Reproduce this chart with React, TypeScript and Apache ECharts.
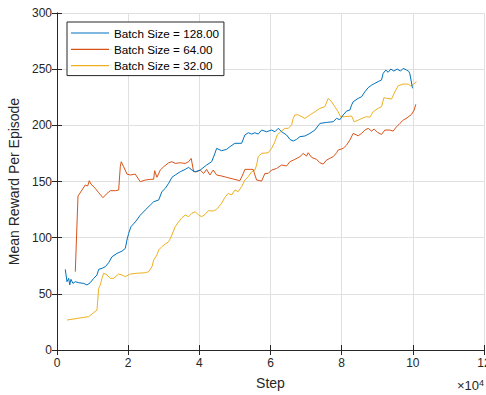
import React, { useEffect, useRef } from "react";
import * as echarts from "echarts";

const seriesNames = ["Batch Size = 128.00", "Batch Size = 64.00", "Batch Size = 32.00"];
const colors = ["#0072BD", "#D95319", "#EDB120"];

const xTicks = [0, 20000, 40000, 60000, 80000, 100000, 120000];
const yTicks = [0, 50, 100, 150, 200, 250, 300];

const stepsB = [2330, 2810, 3290, 3570, 3930, 4490, 5140, 6100, 7500, 8430, 9350, 10310, 11240, 11710, 12640, 13570, 14520, 15450, 16850, 18260, 19190, 19660, 20140, 20790, 22000, 23400, 24800, 26210, 27160, 28570, 29490, 30420, 31380, 32300, 33230, 34640, 36040, 36990, 37920, 38850, 40250, 42050, 43460, 44380, 44860, 46260, 47670, 48600, 50000, 51880, 52810, 53740, 54690, 55620, 56550, 57500, 58900, 60310, 61240, 62160, 63120, 64520, 65450, 66380, 67330, 68260, 69660, 71070, 72470, 73880, 75760, 77610, 78570, 79490, 80420, 81380, 82300, 82780, 83230, 84640, 85590, 86520, 87440, 88400, 89330, 90250, 91210, 91660, 92420, 93060, 93820, 94660, 95590, 96540, 97280, 98230, 98880, 99160, 99910];
const rewardB = [71.8, 60.8, 63.8, 57.9, 62.9, 59.3, 60.8, 59.9, 59.3, 57.9, 59.9, 63.8, 66.8, 71.8, 72.7, 74.1, 77.7, 83, 86, 88, 90.4, 97.9, 103.8, 109.8, 114, 120, 124.6, 129, 132, 133.5, 141, 143.9, 148.4, 153.7, 155.8, 158.7, 160.8, 162.6, 160.2, 158.7, 160.2, 164.7, 167.6, 175, 179.5, 177.4, 178.6, 181, 184, 184, 191.4, 193.4, 192.2, 193.4, 192.2, 195.8, 194.3, 195.8, 194.3, 197.3, 194.3, 191.4, 187.5, 186, 187.5, 189.9, 190.5, 192.8, 195.8, 201.7, 202.6, 203.2, 206.2, 205, 209.2, 212.7, 213.6, 218, 221, 224, 225.4, 229.9, 233.5, 235.8, 237.4, 238.9, 240.4, 246.3, 249.2, 247.2, 250.1, 248.3, 250.1, 248.3, 250.7, 249.2, 248, 246, 233];

const stepsO = [5140, 5900, 7020, 7950, 8620, 9070, 9550, 10760, 11710, 12920, 13850, 14970, 16380, 17330, 17780, 18060, 18740, 19660, 20590, 21990, 23400, 24800, 26210, 27160, 27440, 28090, 29020, 29970, 31380, 32300, 33230, 34640, 36040, 36990, 37720, 38400, 39330, 40250, 41210, 42050, 42980, 43910, 44860, 46260, 47670, 49520, 51400, 52150, 52810, 55140, 55620, 56100, 57500, 58430, 59360, 60310, 61710, 63120, 64520, 65450, 66850, 68260, 69190, 70140, 70590, 71540, 72950, 73880, 74800, 75760, 76680, 77610, 78570, 79020, 80420, 81380, 82300, 83230, 84640, 85590, 86520, 87440, 88400, 89130, 90080, 91210, 92140, 93540, 94470, 95420, 96350, 97280, 98400, 99630, 100370, 100840];
const rewardO = [69.7, 137, 142.4, 146.9, 146, 150.7, 147.7, 143.9, 140, 135.6, 138.8, 141.8, 141.8, 142.4, 163.1, 167.6, 163.1, 156.6, 155.8, 156.6, 149.8, 151.3, 151.9, 152, 159.6, 153.7, 160.2, 163.1, 166.7, 167.6, 166.1, 166.7, 166.1, 167.6, 170.5, 158.7, 158.7, 160.2, 157.2, 160.8, 155.8, 160.2, 155.8, 154.9, 153.7, 152.2, 150.7, 155.8, 160.8, 160.8, 155.8, 151.3, 150.4, 157.2, 157.2, 160.2, 161.6, 164.7, 163.8, 167.6, 169.7, 172.1, 175, 172.6, 175.6, 171.5, 169.7, 166.7, 165.5, 169.1, 170.6, 172.1, 175.6, 178, 179.5, 182.4, 186.9, 192.8, 190.7, 192.8, 195.8, 197.3, 194.9, 196.7, 193.7, 191.9, 195.8, 195.8, 194.9, 198.7, 201.7, 204.6, 206.7, 209.7, 213.6, 218.7];

const stepsY = [2810, 8900, 11240, 11710, 12160, 12640, 13120, 14050, 14970, 15930, 17330, 18260, 19190, 20590, 22470, 24800, 25760, 26690, 27160, 28090, 28570, 29490, 30420, 31380, 32300, 33230, 34190, 35110, 36040, 36990, 37920, 38850, 39800, 40650, 41570, 42500, 43910, 44860, 46260, 47190, 48120, 49070, 50000, 50930, 51880, 52810, 53740, 54690, 55620, 56100, 56550, 57500, 59360, 60310, 61240, 61880, 62840, 64050, 64970, 65930, 66380, 66850, 67700, 69660, 71070, 72470, 73880, 75290, 76210, 77170, 78090, 79020, 79690, 80900, 82780, 83510, 84640, 86040, 87000, 87920, 88850, 90250, 91210, 91860, 92620, 94020, 94940, 95870, 97280, 98680, 99350, 100090, 101040];
const rewardY = [26.7, 29.7, 35.6, 54.9, 57.9, 63.8, 68.3, 66.8, 63.8, 63.8, 67.6, 66.8, 65.3, 67.6, 68.3, 68.8, 69.7, 74.1, 80.1, 84.6, 89, 92, 94.3, 96.4, 102.4, 109.8, 114.2, 117.8, 120.1, 118.7, 121.7, 123.1, 120.1, 118.7, 120.5, 124, 123.7, 125.2, 130.6, 135.9, 139.4, 138, 142.4, 141, 145.4, 151.3, 154.3, 158.7, 160.2, 164.7, 172.1, 175, 175.6, 179.5, 185.4, 191.4, 194.3, 197.3, 197.3, 200.3, 206.2, 209.2, 209.5, 206.2, 209.2, 212.1, 215.1, 216.6, 224, 221, 216.6, 212.1, 207.7, 207.7, 208.3, 203.2, 204.6, 206.7, 207.7, 207.2, 212.1, 215.1, 216.6, 224.6, 224, 223.4, 229.9, 235.2, 236.7, 236.7, 235.2, 236.3, 238.9];

const FONT = "'Liberation Sans', Arial, Helvetica, sans-serif";
const AXIS_COLOR = "#262626";

function pairs(xs: number[], ys: number[]) {
  return xs.map((x, i) => [x, ys[i]]);
}

export default function App() {
  const ref = useRef<HTMLDivElement>(null);
  useEffect(() => {
    if (!ref.current) return;
    const chart = echarts.init(ref.current, null, { renderer: "svg" });
    const xMin = xTicks[0];
    const xMax = xTicks[xTicks.length - 1];
    const xInt = xTicks[1] - xTicks[0];
    const yMin = yTicks[0];
    const yMax = yTicks[yTicks.length - 1];
    const yInt = yTicks[1] - yTicks[0];
    const lineStyleAxis = { show: true, lineStyle: { color: AXIS_COLOR, width: 1 } };
    const tickIn = { show: true, inside: true, length: 5, lineStyle: { color: AXIS_COLOR } };
    const data = [pairs(stepsB, rewardB), pairs(stepsO, rewardO), pairs(stepsY, rewardY)];
    chart.setOption({
      animation: false,
      backgroundColor: "#ffffff",
      grid: { left: 57, right: 2, top: 13, bottom: 45, containLabel: false, outerBoundsMode: "none" },
      legend: {
        left: 67,
        top: 22,
        orient: "vertical",
        icon: "rect",
        itemWidth: 38,
        itemHeight: 1.2,
        itemGap: 2.3,
        padding: [4, 5, 3, 4],
        backgroundColor: "#ffffff",
        borderColor: AXIS_COLOR,
        borderWidth: 1,
        borderRadius: 0,
        textStyle: { fontFamily: FONT, fontSize: 11.7, color: "#000000", lineHeight: 14, padding: [0, 0, 0, 0] },
        data: seriesNames,
      },
      xAxis: [
        {
          type: "value",
          min: xMin,
          max: xMax,
          interval: xInt,
          position: "bottom",
          name: "Step",
          nameLocation: "middle",
          nameGap: 26,
          nameTextStyle: { fontFamily: FONT, fontSize: 14, color: AXIS_COLOR },
          axisLine: lineStyleAxis,
          axisTick: tickIn,
          axisLabel: {
            fontFamily: FONT,
            fontSize: 12,
            color: AXIS_COLOR,
            margin: 7,
            showMaxLabel: true,
            formatter: (v: number) => String(v / 10000),
          },
          splitLine: { show: true, lineStyle: { color: "#e0e0e0", width: 1 } },
        },
        {
          type: "value",
          min: xMin,
          max: xMax,
          interval: xInt,
          position: "top",
          axisLine: lineStyleAxis,
          axisTick: tickIn,
          axisLabel: { show: false },
          splitLine: { show: false },
        },
      ],
      yAxis: [
        {
          type: "value",
          min: yMin,
          max: yMax,
          interval: yInt,
          position: "left",
          name: "Mean Reward Per Episode",
          nameLocation: "middle",
          nameGap: 33,
          nameTextStyle: { fontFamily: FONT, fontSize: 14, color: AXIS_COLOR },
          axisLine: lineStyleAxis,
          axisTick: tickIn,
          axisLabel: { fontFamily: FONT, fontSize: 12, color: AXIS_COLOR, margin: 5 },
          splitLine: { show: true, lineStyle: { color: "#e0e0e0", width: 1 } },
        },
        {
          type: "value",
          min: yMin,
          max: yMax,
          interval: yInt,
          position: "right",
          axisLine: lineStyleAxis,
          axisTick: tickIn,
          axisLabel: { show: false },
          splitLine: { show: false },
        },
      ],
      graphic: [
        {
          type: "text",
          left: 457,
          top: 378,
          style: {
            text: "{a|×10}{b|4}",
            fill: AXIS_COLOR,
            rich: {
              a: { fontFamily: FONT, fontSize: 13, fill: AXIS_COLOR, verticalAlign: "bottom", lineHeight: 14 },
              b: { fontFamily: FONT, fontSize: 9, fill: AXIS_COLOR, verticalAlign: "top", lineHeight: 14, padding: [0, 0, 6, 0] },
            },
          },
        },
      ],
      series: seriesNames.map((name, i) => ({
        name,
        type: "line",
        xAxisIndex: 0,
        yAxisIndex: 0,
        symbol: "none",
        showSymbol: false,
        smooth: false,
        data: data[i],
        color: colors[i],
        lineStyle: { color: colors[i], width: 1 },
        z: 3 - i,
      })),
    });
    return () => chart.dispose();
  }, []);
  return <div ref={ref} style={{ width: 486, height: 395, position: "absolute", left: 0, top: 0 }} />;
}
